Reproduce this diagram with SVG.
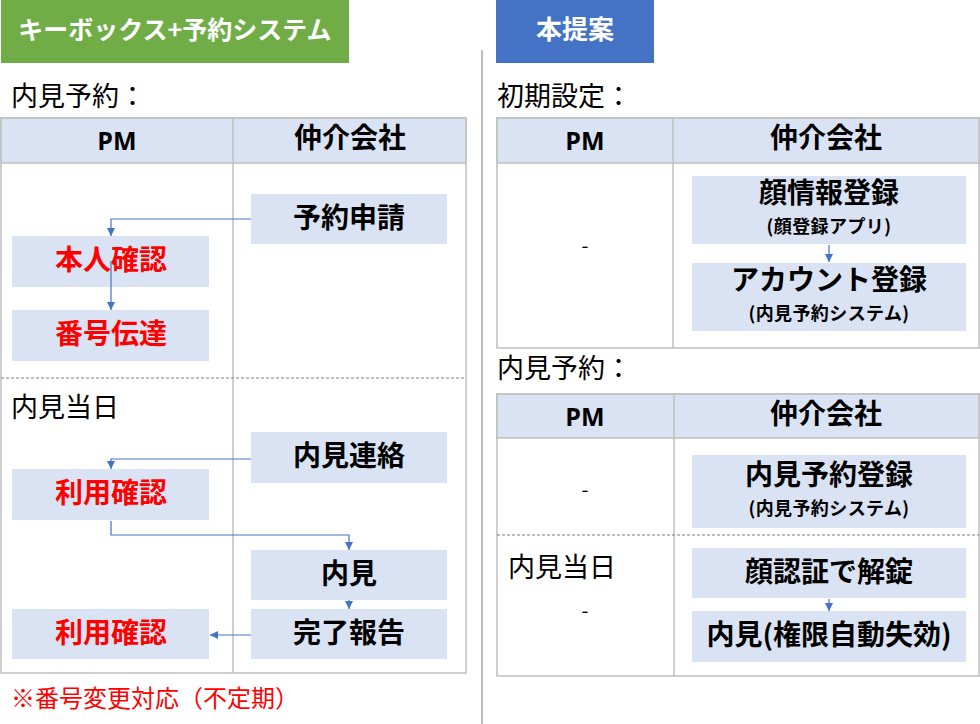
<svg xmlns="http://www.w3.org/2000/svg" width="980" height="724" viewBox="0 0 980 724">
<style>
text{font-family:"Noto Sans CJK JP","Noto Sans",sans-serif;}
.ttl{fill:#fff;font-weight:bold;font-size:25px;text-anchor:middle;}
.lbl{fill:#000;font-size:27px;}
.hd{fill:#000;font-weight:bold;font-size:28px;text-anchor:middle;}
.pm{fill:#000;font-weight:bold;font-size:25px;text-anchor:middle;font-family:"Open Sans","Noto Sans",sans-serif;}
.box{fill:#DAE3F3;}
.bt{fill:#000;font-weight:bold;font-size:28px;text-anchor:middle;}
.rt{fill:#FF0000;font-weight:bold;font-size:28px;text-anchor:middle;}
.st{fill:#000;font-weight:bold;font-size:18px;letter-spacing:0.4px;text-anchor:middle;}
.tbl{fill:#fff;stroke:#BFBFBF;stroke-width:1.5;}
.thd{fill:#DAE3F3;stroke:#BFBFBF;stroke-width:1.5;}
.div{stroke:#BFBFBF;stroke-width:1.5;}
.dash{stroke:#7F7F7F;stroke-width:1;stroke-dasharray:3 2;}
.con{fill:none;stroke:#4472C4;stroke-width:1.2;marker-end:url(#ah);}
.dsh{fill:#000;font-size:20px;text-anchor:middle;}
</style>
<defs>
<marker id="ah" markerUnits="userSpaceOnUse" markerWidth="10" markerHeight="10" refX="8" refY="4" orient="auto">
<path d="M0,0 L8,4 L0,8 z" fill="#4472C4"/>
</marker>
</defs>
<rect width="980" height="724" fill="#fff"/>

<line x1="482" y1="50" x2="482" y2="724" stroke="#A6A6A6" stroke-width="1.5"/>

<g id="title-left">
<rect x="1" y="0" width="348" height="63" fill="#70AD47"/>
<text class="ttl" x="175" y="39">キーボックス+予約システム</text>
</g>
<g id="title-right">
<rect x="496" y="0" width="158" height="63" fill="#4472C4"/>
<text class="ttl" x="575" y="39" style="font-size:26px">本提案</text>
</g>

<g id="left-table">
<text class="lbl" x="11" y="106">内見予約：</text>
<rect class="tbl" x="1" y="118" width="465" height="555"/>
<rect class="thd" x="1" y="118" width="465" height="45"/>
<line class="div" x1="233" y1="118" x2="233" y2="673"/>
<text class="pm" x="117" y="150">PM</text>
<text class="hd" x="350" y="148">仲介会社</text>
<line class="dash" x1="1" y1="378" x2="466" y2="378"/>
<text class="lbl" x="11" y="417">内見当日</text>
</g>

<g id="node-yoyaku-shinsei">
<rect class="box" x="251" y="194" width="196" height="50"/>
<text class="bt" x="349" y="228">予約申請</text>
</g>
<g id="node-honnin-kakunin">
<rect class="box" x="12" y="236" width="197" height="51"/>
<text class="rt" x="111" y="270">本人確認</text>
</g>
<g id="node-bangou-dentatsu">
<rect class="box" x="12" y="310" width="197" height="51"/>
<text class="rt" x="111" y="344">番号伝達</text>
</g>
<g id="node-naiken-renraku">
<rect class="box" x="251" y="432" width="196" height="51"/>
<text class="bt" x="349" y="466">内見連絡</text>
</g>
<g id="node-riyou-kakunin-1">
<rect class="box" x="12" y="469" width="197" height="51"/>
<text class="rt" x="111" y="503">利用確認</text>
</g>
<g id="node-naiken">
<rect class="box" x="251" y="550" width="196" height="50"/>
<text class="bt" x="349" y="584">内見</text>
</g>
<g id="node-kanryou-houkoku">
<rect class="box" x="251" y="609" width="196" height="50"/>
<text class="bt" x="349" y="643">完了報告</text>
</g>
<g id="node-riyou-kakunin-2">
<rect class="box" x="12" y="609" width="197" height="50"/>
<text class="rt" x="111" y="643">利用確認</text>
</g>
<text x="11" y="707" style="fill:#FF0000;font-size:24px;">※番号変更対応（不定期）</text>

<g id="right-table-1">
<text class="lbl" x="497" y="106">初期設定：</text>
<rect class="tbl" x="497" y="118" width="482" height="230"/>
<rect class="thd" x="497" y="118" width="482" height="45"/>
<line class="div" x1="673" y1="118" x2="673" y2="348"/>
<text class="pm" x="585" y="150">PM</text>
<text class="hd" x="826" y="148">仲介会社</text>
<text class="dsh" x="585" y="253">-</text>
</g>
<g id="node-kao-touroku">
<rect class="box" x="692" y="176" width="274" height="68"/>
<text class="bt" x="829" y="203">顔情報登録</text>
<text class="st" x="829" y="233">(顔登録アプリ)</text>
</g>
<g id="node-account-touroku">
<rect class="box" x="692" y="263" width="274" height="68"/>
<text class="bt" x="829" y="290">アカウント登録</text>
<text class="st" x="829" y="320">(内見予約システム)</text>
</g>

<g id="right-table-2">
<text class="lbl" x="497" y="378">内見予約：</text>
<rect class="tbl" x="497" y="394" width="482" height="282"/>
<rect class="thd" x="497" y="394" width="482" height="44"/>
<line class="div" x1="674" y1="394" x2="674" y2="676"/>
<text class="pm" x="585" y="426">PM</text>
<text class="hd" x="826" y="424">仲介会社</text>
<text class="dsh" x="585" y="497">-</text>
<line class="dash" x1="497" y1="535" x2="979" y2="535"/>
<text class="lbl" x="508" y="577">内見当日</text>
<text class="dsh" x="585" y="618">-</text>
</g>
<g id="node-naiken-yoyaku-touroku">
<rect class="box" x="692" y="455" width="274" height="73"/>
<text class="bt" x="829" y="485">内見予約登録</text>
<text class="st" x="829" y="515">(内見予約システム)</text>
</g>
<g id="node-kao-ninshou">
<rect class="box" x="692" y="548" width="274" height="50"/>
<text class="bt" x="829" y="582">顔認証で解錠</text>
</g>
<g id="node-naiken-kengen">
<rect class="box" x="692" y="611" width="274" height="51"/>
<text class="bt" x="829" y="645">内見(権限自動失効)</text>
</g>

<g id="connectors">
<path class="con" d="M251,219 H111 V236"/>
<path class="con" d="M111,261 V310"/>
<path class="con" d="M251,459 H111 V469"/>
<path class="con" d="M111,521 V535 H349 V550"/>
<path class="con" d="M349,600 V609"/>
<path class="con" d="M251,635 H210"/>
<path class="con" d="M829,245 V262"/>
<path class="con" d="M829,599 V611"/>
</g>
</svg>
